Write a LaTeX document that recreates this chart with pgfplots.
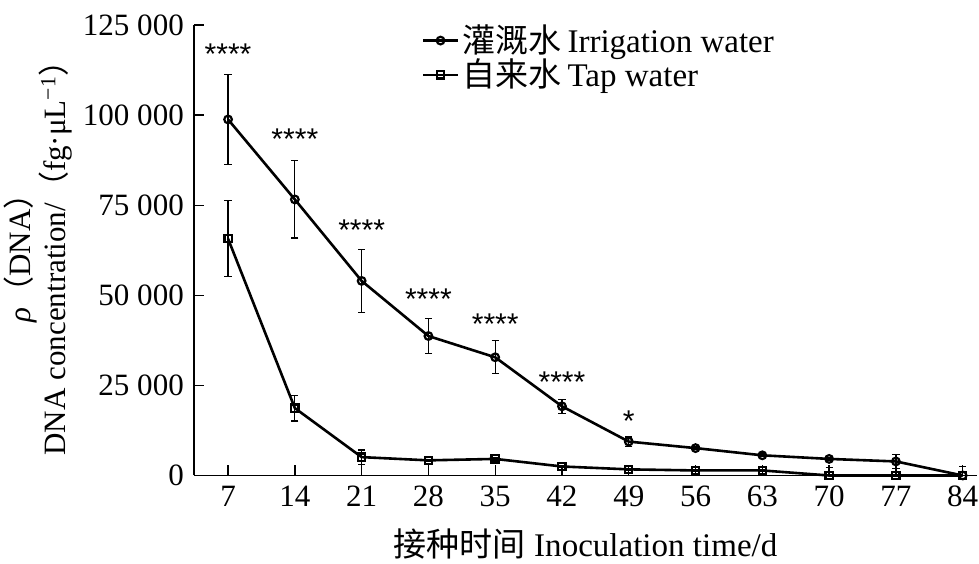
\documentclass[border=0pt]{standalone}
\usepackage{fontspec}
\setmainfont{Liberation Serif}
\newfontfamily\cjk{Noto Sans CJK SC}
\newfontfamily\starfont{Liberation Sans}
\usepackage{pgfplots}
\pgfplotsset{compat=1.18}
\usepackage{pgfplotstable}

\pgfplotstableread{
x y ep em
7 98800 12500 12500
14 76600 10700 10700
21 54000 8700 8700
28 38700 4900 4900
35 32800 4600 4600
42 19200 1900 1900
49 9400 1300 1300
56 7600 400 400
63 5600 400 400
70 4600 500 500
77 3900 1900 1900
84 0 0 0
}\irr

\pgfplotstableread{
x y ep em
7 65700 10500 10500
14 18700 3600 3600
21 5100 2000 2000
28 4200 300 300
35 4600 400 400
42 2500 300 300
49 1700 300 300
56 1400 200 200
63 1400 200 200
70 0 2300 0
77 0 2000 0
84 0 2500 0
}\tap

\begin{document}
\begin{tikzpicture}
\fontsize{15}{17}\selectfont
\begin{axis}[
  name=ax,
  scale only axis,
  width=391pt, height=225pt,
  xmin=3.45, xmax=85.5,
  ymin=0, ymax=125000,
  axis lines*=left,
  axis line style={line width=0.7pt},
  tick style={line width=0.7pt, black},
  tick align=inside,
  major tick length=5pt,
  scaled y ticks=false,
  scaled x ticks=false,
  xtick={7,14,21,28,35,42,49,56,63,70,77,84},
  xticklabels={7,14,21,28,35,42,49,56,63,70,77,84},
  ytick={0,25000,50000,75000,100000,125000},
  yticklabels={0,25\ 000,50\ 000,75\ 000,100\ 000,125\ 000},
  ticklabel style={font=\fontsize{15.5}{17}\selectfont},
  clip=false,
  xlabel={{\cjk 接种时间} Inoculation time/d},
  xlabel style={font=\fontsize{16.5}{18}\selectfont, yshift=-1pt},
  ylabel={\textit{ρ}{\cjk （}DNA{\cjk ）}\\DNA concentration/{\cjk （}fg·μL\textsuperscript{−1}{\cjk ）}},
  ylabel style={font=\fontsize{15.5}{15}\selectfont, align=center, yshift=-5pt},
  legend style={at={(0.283,1.02)}, anchor=north west, draw=none, fill=none,
    font=\fontsize{16.5}{18}\selectfont, cells={anchor=west}, row sep=-3pt},
]
\addplot[black, line width=1.3pt, mark=o, mark size=1.9pt, mark options={line width=1.1pt, solid, fill=none},
  error bars/.cd, y dir=both, y explicit,
  error bar style={line width=0.6pt, black},
  error mark options={rotate=90, mark size=1.8pt, line width=0.6pt, black}]
  table[x=x, y=y, y error plus=ep, y error minus=em]{\irr};
\addlegendentry{{\cjk 灌溉水}\,Irrigation water}
\addplot[black, line width=1.3pt, mark=square, mark size=1.8pt, mark options={line width=1.1pt, solid, fill=none},
  error bars/.cd, y dir=both, y explicit,
  error bar style={line width=0.6pt, black},
  error mark options={rotate=90, mark size=1.8pt, line width=0.6pt, black}]
  table[x=x, y=y, y error plus=ep, y error minus=em]{\tap};
\addlegendentry{{\cjk 自来水}\,Tap water}
\begin{scope}[every node/.style={font=\starfont\fontsize{15}{17}\selectfont, yshift=-3pt}]
\node at (axis cs:7,118600) {****};
\node at (axis cs:14,95000) {****};
\node at (axis cs:21,69700) {****};
\node at (axis cs:28,50600) {****};
\node at (axis cs:35,43600) {****};
\node at (axis cs:42,27500) {****};
\node at (axis cs:49,16700) {*};
\end{scope}
\end{axis}
\pgfresetboundingbox
\path ([xshift=-97pt, yshift=-44pt]ax.south west) rectangle ([xshift=1pt, yshift=12.5pt]ax.north east);
\end{tikzpicture}
\end{document}
